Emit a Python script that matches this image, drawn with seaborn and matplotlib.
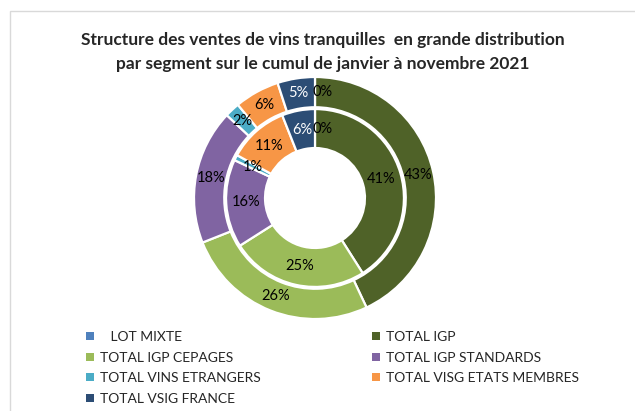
import matplotlib.pyplot as plt
import seaborn as sns
from matplotlib.patches import Patch, Rectangle

segments = ["   LOT MIXTE", "TOTAL IGP", "TOTAL IGP CEPAGES", "TOTAL IGP STANDARDS",
            "TOTAL VINS ETRANGERS", "TOTAL VISG ETATS MEMBRES", "TOTAL VSIG FRANCE"]
outer_pct = [0, 43, 26, 18, 2, 6, 5]
inner_pct = [0, 41, 25, 16, 1, 11, 6]
colors = ["#4F81BD", "#4F6228", "#9BBB59", "#8064A2", "#4BACC6", "#F79646", "#2C4D75"]
title = ("Structure des ventes de vins tranquilles  en grande distribution\n"
         "par segment sur le cumul de janvier à novembre 2021")

sns.set_style("white")
plt.rcParams['font.family'] = ['Lato', 'DejaVu Sans']

fig = plt.figure(figsize=(6.35, 4.11), dpi=100)
fig.patches.append(Rectangle((10 / 635, -0.1), 1.2, 1 - 11 / 411 + 0.1, transform=fig.transFigure,
                             fill=False, edgecolor="#D9D9D9", linewidth=1))

ax = fig.add_axes([194 / 635, 1 - 319 / 411, 242 / 635, 242 / 411])
wedge_kw = dict(edgecolor="white", linewidth=1.6)
txt_kw = dict(fontsize=10.5, color="black")

w_out, _, t_out = ax.pie(outer_pct, colors=colors, radius=1.0, startangle=90, counterclock=False,
                         autopct="%.0f%%", pctdistance=0.875, wedgeprops=dict(width=0.25, **wedge_kw),
                         textprops=txt_kw)
w_in, _, t_in = ax.pie(inner_pct, colors=colors, radius=0.735, startangle=90, counterclock=False,
                       autopct="%.0f%%", pctdistance=0.78, wedgeprops=dict(width=0.322, **wedge_kw),
                       textprops=txt_kw)
for t in (t_out[-1], t_in[-1]):
    t.set_color("white")
# the zero-share labels sit a little right of the top, as in the source chart
for t in (t_out[0], t_in[0]):
    x, y = t.get_position()
    t.set_position((x + 0.06, y))
ax.set_xlim(-1, 1)
ax.set_ylim(-1, 1)
ax.set_aspect("equal")

fig.text(0.508, 1 - 52 / 411, title, ha="center", va="center", fontsize=12.5,
         fontweight="bold", linespacing=1.6)

handles = [Patch(facecolor=c, edgecolor="none") for c in colors]
leg_kw = dict(frameon=False, fontsize=10, handlelength=0.55, handleheight=0.55,
              handletextpad=0.45, labelspacing=0.62, borderpad=0, borderaxespad=0)
fig.legend(handles[0::2], segments[0::2], loc="upper left",
           bbox_to_anchor=(86 / 635, 1 - 331 / 411), **leg_kw)
fig.legend(handles[1::2], segments[1::2], loc="upper left",
           bbox_to_anchor=(372 / 635, 1 - 331 / 411), **leg_kw)

fig.savefig("out.png", dpi=100)
